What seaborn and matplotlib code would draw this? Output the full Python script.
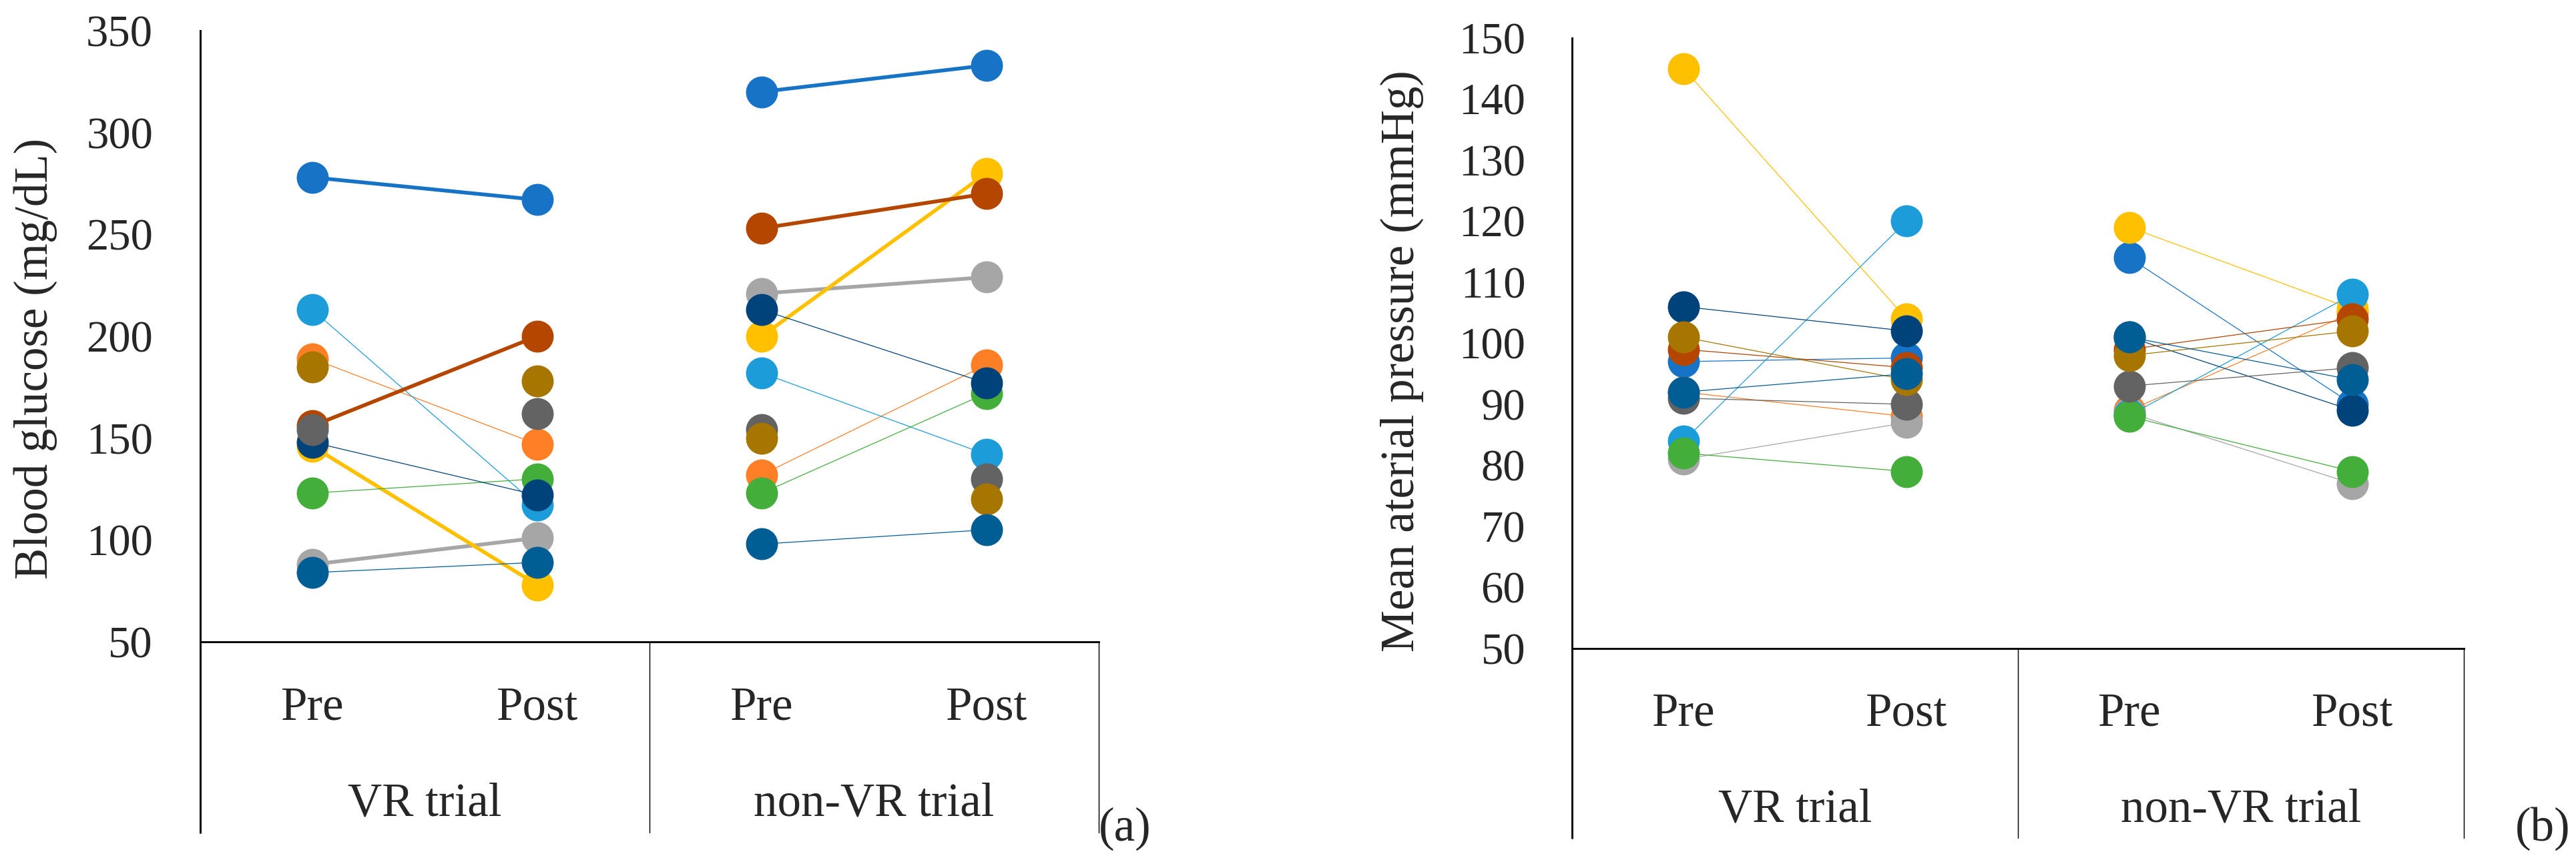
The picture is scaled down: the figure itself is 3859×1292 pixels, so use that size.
import matplotlib
matplotlib.use("Agg")
import matplotlib.pyplot as plt
import pandas as pd
import seaborn as sns

sns.set_style("white")
plt.rcParams['font.family'] = ['Liberation Serif', 'DejaVu Serif']
plt.rcParams['font.size'] = 16

# series in Excel order (later ones drawn on top)
subjects = ["S1", "S2", "S3", "S4", "S5", "S6", "S7", "S8", "S9", "S10", "S11"]
colors = ["#1773C6", "#FF7F27", "#A6A6A6", "#FFC000", "#1C9CD8", "#44AE3B",
          "#00427A", "#B44600", "#636363", "#A77600", "#005E95"]

phases = ["Pre", "Post", "Pre", "Post"]
trials = ["VR trial", "non-VR trial"]

# blood glucose (mg/dL)
glu_vr_pre = [278, 189, 88, 146, 213, 123, 148, 156, 154, 185, 84]
glu_vr_post = [267, 147, 101, 78, 117, 130, 122, 200, 162, 178, 89]
glu_nvr_pre = [320, 132, 221, 200, 182, 123, 213, 253, 154, 150, 98]
glu_nvr_post = [333, 186, 229, 280, 142, 172, 177, 270, 130, 120, 105]
glu_line = ["thick", "thin", "thick", "thick", "thin", "thin",
            "thin", "thick", "none", "none", "thin"]

# mean arterial pressure (mmHg)
map_vr_pre = [97, 92, 81, 145, 84, 82, 106, 99, 91, 101, 92]
map_vr_post = [97.6, 88, 87, 104, 120, 79, 102, 96, 90, 94, 95]
map_nvr_pre = [114, 89, 88.6, 119, 88.2, 88, 101, 99, 93, 98, 101]
map_nvr_post = [90, 105, 77, 105.6, 108, 79, 89, 104, 96, 102, 94]
map_line = ["thin"] * 11

widths = {"thick": 1.35, "thin": 0.3, "none": 0}


def long_table(vr_pre, vr_post, nvr_pre, nvr_post):
    rows = []
    cols = [(0.5, trials[0], vr_pre), (1.5, trials[0], vr_post),
            (2.5, trials[1], nvr_pre), (3.5, trials[1], nvr_post)]
    for pos, trial, vals in cols:
        for s, v in zip(subjects, vals):
            rows.append({"subject": s, "trial": trial, "pos": pos, "value": v})
    return pd.DataFrame(rows)


def panel(ax, df, lines, ylim, yticks, ylabel, ylab_xy, box_bottom, ypad):
    for s, c, kind in zip(subjects, colors, lines):
        sub = df[df["subject"] == s]
        sns.lineplot(sub, x="pos", y="value", units="trial", estimator=None,
                     color=c, lw=widths[kind], linestyle="-" if kind != "none" else "none",
                     marker="o", markersize=11.5, markeredgewidth=0,
                     markeredgecolor=c, legend=False, ax=ax)
    ax.set_xlim(0, 4)
    ax.set_ylim(*ylim)
    ax.set_yticks(yticks)
    ax.set_xticks([])
    ax.set_xlabel("")
    ax.set_ylabel(ylabel, fontsize=17)
    ax.yaxis.set_label_coords(*ylab_xy)
    ax.yaxis.label.set_verticalalignment("center")
    ax.tick_params(axis="y", length=0, pad=ypad, labelsize=16)
    for side in ["top", "right"]:
        ax.spines[side].set_visible(False)
    for side in ["left", "bottom"]:
        ax.spines[side].set_linewidth(0.7)
        ax.spines[side].set_color("black")

    tr = ax.get_xaxis_transform()
    ax.plot([0, 0], [0, box_bottom], color="black", lw=0.7, transform=tr, clip_on=False)
    for x in [2, 4]:
        ax.plot([x, x], [0, box_bottom], color="black", lw=0.35, transform=tr, clip_on=False)
    for x, p in zip([0.5, 1.5, 2.5, 3.5], phases):
        ax.text(x, -0.1267, p, transform=tr, ha="center", va="baseline", fontsize=17)
    for x, t in zip([1, 3], trials):
        ax.text(x, -0.284, t, transform=tr, ha="center", va="baseline", fontsize=17)


fig = plt.figure(figsize=(3859 / 300, 1292 / 300), dpi=300)
ax1 = fig.add_axes([0.0777, 0.2554, 0.3488, 0.7090])
ax2 = fig.add_axes([0.6103, 0.2477, 0.3462, 0.7082])

panel(ax1, long_table(glu_vr_pre, glu_vr_post, glu_nvr_pre, glu_nvr_post), glu_line,
      (50, 350), list(range(50, 351, 50)), "Blood glucose (mg/dL)",
      (-0.1835, 0.463), -0.3122, 17)
panel(ax2, long_table(map_vr_pre, map_vr_post, map_nvr_pre, map_nvr_post), map_line,
      (50, 150), list(range(50, 151, 10)), "Mean aterial pressure (mmHg)",
      (-0.1909, 0.471), -0.3104, 16.8)

fig.text(0.4366, 0.0387, "(a)", ha="center", va="center", fontsize=17)
fig.text(0.987, 0.0387, "(b)", ha="center", va="center", fontsize=17)

fig.savefig("out.png", dpi=300)
